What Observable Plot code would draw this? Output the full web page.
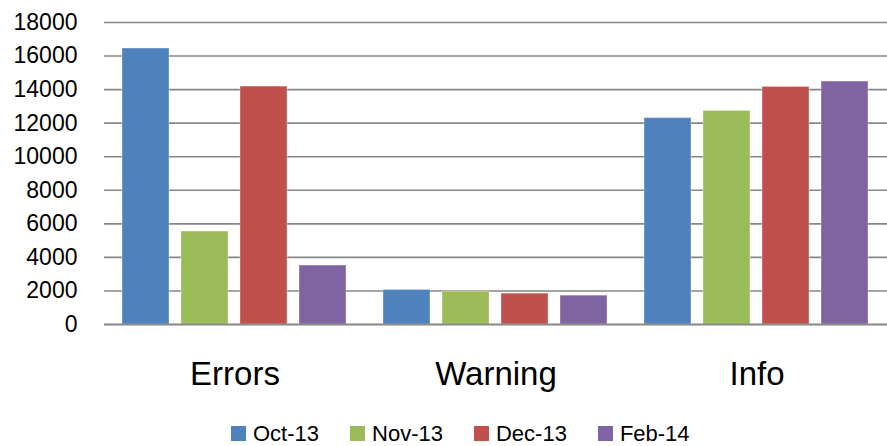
<!DOCTYPE html>
<html>
<head>
<meta charset="utf-8">
<script src="https://cdn.jsdelivr.net/npm/d3@7"></script>
<script src="https://cdn.jsdelivr.net/npm/@observablehq/plot@0.6"></script>
<style>
  html, body { margin: 0; padding: 0; background: white; overflow: hidden; }
  #chart svg { display: block; }
  #legend { padding-left: 231px; margin-top: 7px; }
  div.leg-swatches { font-family: "Liberation Sans", Arial, sans-serif !important; font-size: 22px !important; color: black !important; margin: 0 !important; }
  div.leg-swatches span.leg-swatch { margin-right: 31px !important; }
  div.leg-swatches span.leg-swatch > svg { margin-right: 7px !important; }
</style>
</head>
<body>
<div id="chart"></div>
<div id="legend"></div>
<script>
const categories = ["Errors", "Warning", "Info"];
const series = ["Oct-13", "Nov-13", "Dec-13", "Feb-14"];
const colors = ["#4F81BD", "#9BBB59", "#C0504D", "#8064A2"];
const oct13 = [16450, 2060, 12300];
const nov13 = [5540, 1960, 12730];
const dec13 = [14180, 1840, 14160];
const feb14 = [3515, 1720, 14480];
const yTicks = [0, 2000, 4000, 6000, 8000, 10000, 12000, 14000, 16000, 18000];

const seriesValues = [oct13, nov13, dec13, feb14];
const data = categories.flatMap((c, i) =>
  series.map((s, j) => ({category: c, series: s, value: seriesValues[j][i]}))
);

const chart = Plot.plot({
  width: 887,
  height: 410,
  marginLeft: 103,
  marginRight: 0,
  marginTop: 22,
  marginBottom: 86,
  style: {fontFamily: "Liberation Sans, Arial, sans-serif", color: "black", background: "white", overflow: "visible"},
  fx: {domain: categories, padding: 0, label: null},
  x: {domain: series, paddingInner: 0.2, paddingOuter: 0.278, axis: null},
  y: {domain: [0, 18000], ticks: yTicks, label: null},
  color: {domain: series, range: colors},
  marks: [
    Plot.ruleY(yTicks.filter(d => d > 0), {stroke: "#868686", strokeWidth: 1.6}),
    Plot.barY(data, {fx: "category", x: "series", y: "value", fill: "series", stroke: "white", strokeOpacity: 0.35, strokeWidth: 1}),
    Plot.ruleY([0], {stroke: "#868686", strokeWidth: 1.8}),
    Plot.axisY({ticks: yTicks, tickFormat: d => String(d), tickSize: 0, tickPadding: 27, fontSize: 23, label: null}),
    Plot.axisFx({anchor: "bottom", tickSize: 0, tickPadding: 37, fontSize: 33, label: null})
  ]
});
document.getElementById("chart").appendChild(chart);

const legend = Plot.legend({
  color: {domain: series, range: colors},
  legend: "swatches",
  swatchSize: 15,
  className: "leg"
});
document.getElementById("legend").appendChild(legend);
</script>
</body>
</html>
